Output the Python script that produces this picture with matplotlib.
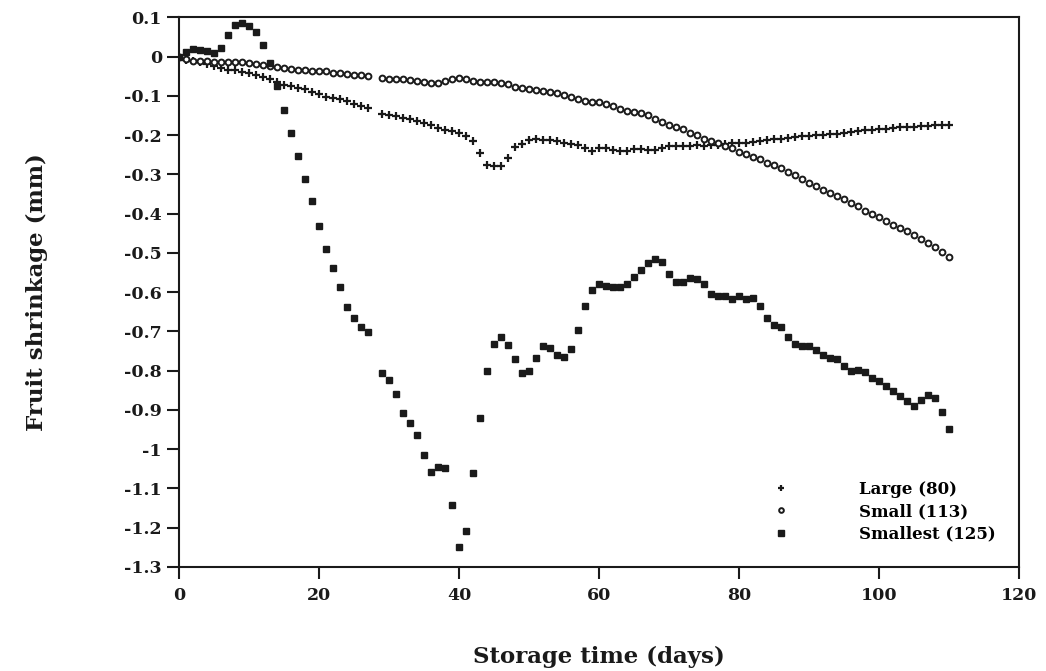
import matplotlib
matplotlib.use("Agg")
import matplotlib.pyplot as plt

# storage days (no reading on day 28)
days = list(range(0, 28)) + list(range(29, 111))

large = [
    0.000, -0.008, -0.012, -0.015, -0.018, -0.023, -0.029, -0.033, -0.035, -0.039,
    -0.042, -0.046, -0.051, -0.057, -0.064, -0.073, -0.076, -0.080, -0.083, -0.089,
    -0.095, -0.102, -0.105, -0.109, -0.114, -0.121, -0.127, -0.131,
    -0.145, -0.149, -0.152, -0.156, -0.160, -0.165, -0.170, -0.174, -0.182, -0.187,
    -0.190, -0.195, -0.203, -0.215, -0.245, -0.275, -0.279, -0.279, -0.258, -0.231,
    -0.223, -0.212, -0.210, -0.212, -0.213, -0.215, -0.219, -0.222, -0.225, -0.232,
    -0.240, -0.234, -0.234, -0.237, -0.240, -0.240, -0.236, -0.236, -0.238, -0.238,
    -0.234, -0.229, -0.229, -0.228, -0.227, -0.226, -0.228, -0.226, -0.225, -0.223,
    -0.221, -0.221, -0.219, -0.217, -0.214, -0.212, -0.211, -0.209, -0.207, -0.205,
    -0.203, -0.202, -0.200, -0.199, -0.198, -0.196, -0.195, -0.191, -0.190, -0.188,
    -0.186, -0.184, -0.184, -0.182, -0.180, -0.179, -0.179, -0.177, -0.176, -0.175,
    -0.174, -0.173,
]

small = [
    0.000, -0.007, -0.010, -0.010, -0.010, -0.013, -0.015, -0.015, -0.013, -0.015,
    -0.017, -0.019, -0.021, -0.025, -0.027, -0.029, -0.032, -0.034, -0.035, -0.036,
    -0.037, -0.038, -0.041, -0.043, -0.045, -0.047, -0.048, -0.049,
    -0.055, -0.057, -0.058, -0.058, -0.059, -0.061, -0.064, -0.067, -0.068, -0.062,
    -0.058, -0.055, -0.056, -0.061, -0.066, -0.065, -0.065, -0.067, -0.071, -0.077,
    -0.081, -0.083, -0.086, -0.088, -0.091, -0.094, -0.099, -0.104, -0.108, -0.112,
    -0.115, -0.116, -0.120, -0.125, -0.133, -0.138, -0.142, -0.144, -0.150, -0.158,
    -0.166, -0.174, -0.179, -0.185, -0.194, -0.200, -0.209, -0.216, -0.221, -0.228,
    -0.234, -0.242, -0.249, -0.255, -0.261, -0.270, -0.276, -0.284, -0.293, -0.302,
    -0.312, -0.321, -0.330, -0.339, -0.347, -0.354, -0.363, -0.372, -0.381, -0.393,
    -0.401, -0.409, -0.418, -0.428, -0.437, -0.445, -0.454, -0.465, -0.476, -0.486,
    -0.497, -0.511,
]

smallest = [
    0.000, 0.012, 0.019, 0.016, 0.015, 0.010, 0.023, 0.054, 0.080, 0.086,
    0.079, 0.063, 0.030, -0.017, -0.075, -0.137, -0.194, -0.253, -0.312, -0.367,
    -0.431, -0.490, -0.539, -0.588, -0.638, -0.665, -0.689, -0.702,
    -0.807, -0.825, -0.860, -0.909, -0.934, -0.964, -1.015, -1.059, -1.045, -1.048,
    -1.143, -1.250, -1.208, -1.060, -0.921, -0.801, -0.733, -0.715, -0.734, -0.769,
    -0.806, -0.802, -0.767, -0.737, -0.742, -0.761, -0.765, -0.745, -0.696, -0.634,
    -0.594, -0.579, -0.584, -0.588, -0.588, -0.580, -0.562, -0.544, -0.527, -0.516,
    -0.524, -0.555, -0.573, -0.573, -0.565, -0.567, -0.579, -0.604, -0.609, -0.609,
    -0.617, -0.610, -0.618, -0.616, -0.634, -0.667, -0.684, -0.689, -0.715, -0.733,
    -0.737, -0.737, -0.748, -0.760, -0.767, -0.771, -0.789, -0.800, -0.797, -0.803,
    -0.819, -0.827, -0.839, -0.851, -0.864, -0.877, -0.891, -0.875, -0.862, -0.869,
    -0.905, -0.948,
]

series_labels = ["Large (80)", "Small (113)", "Smallest (125)"]

x_ticks = [0, 20, 40, 60, 80, 100, 120]
y_ticks = [0.1, 0.0, -0.1, -0.2, -0.3, -0.4, -0.5, -0.6, -0.7, -0.8, -0.9, -1.0, -1.1, -1.2, -1.3]
y_tick_labels = ["0.1", "0", "-0.1", "-0.2", "-0.3", "-0.4", "-0.5", "-0.6", "-0.7",
                 "-0.8", "-0.9", "-1", "-1.1", "-1.2", "-1.3"]


def main():
    plt.rcParams["font.family"] = ["DejaVu Serif"]
    plt.rcParams["font.weight"] = "bold"
    ink = "#1a1a1a"

    fig = plt.figure(figsize=(10.46, 6.71), dpi=100)
    ax = fig.add_axes([0.1714, 0.155, 0.8031, 0.8192])

    ax.plot(days, large, linestyle="none", marker="+", markersize=6, markeredgewidth=1.6,
            color=ink, label=series_labels[0])
    ax.plot(days, small, linestyle="none", marker="o", markersize=4.2, markeredgewidth=1.4,
            markerfacecolor="white", markeredgecolor=ink, label=series_labels[1])
    ax.plot(days, smallest, linestyle="none", marker="s", markersize=5.0,
            color=ink, label=series_labels[2])

    ax.set_xlim(0, 120)
    ax.set_ylim(-1.3, 0.1)
    ax.set_xticks(x_ticks)
    ax.set_yticks(y_ticks)
    ax.set_yticklabels(y_tick_labels)
    ax.tick_params(direction="out", length=8.5, width=1.5, labelsize=12.5, colors=ink)
    ax.tick_params(axis="x", pad=6)
    ax.tick_params(axis="y", pad=4)
    for spine in ax.spines.values():
        spine.set_linewidth(1.5)
        spine.set_color(ink)

    ax.set_xlabel("Storage time (days)", fontsize=16.5, fontweight="bold", labelpad=30, color=ink)
    ax.set_ylabel("Fruit shrinkage (mm)", fontsize=16.5, fontweight="bold", labelpad=55, color=ink)

    ax.legend(loc="upper left", bbox_to_anchor=(0.706, 0.157), frameon=False, fontsize=12,
              handlelength=1.0, handletextpad=4.2, labelspacing=0.32, borderpad=0,
              borderaxespad=0, markerscale=0.8)

    fig.savefig("out.png", dpi=100)
    plt.close(fig)


if __name__ == "__main__":
    main()
